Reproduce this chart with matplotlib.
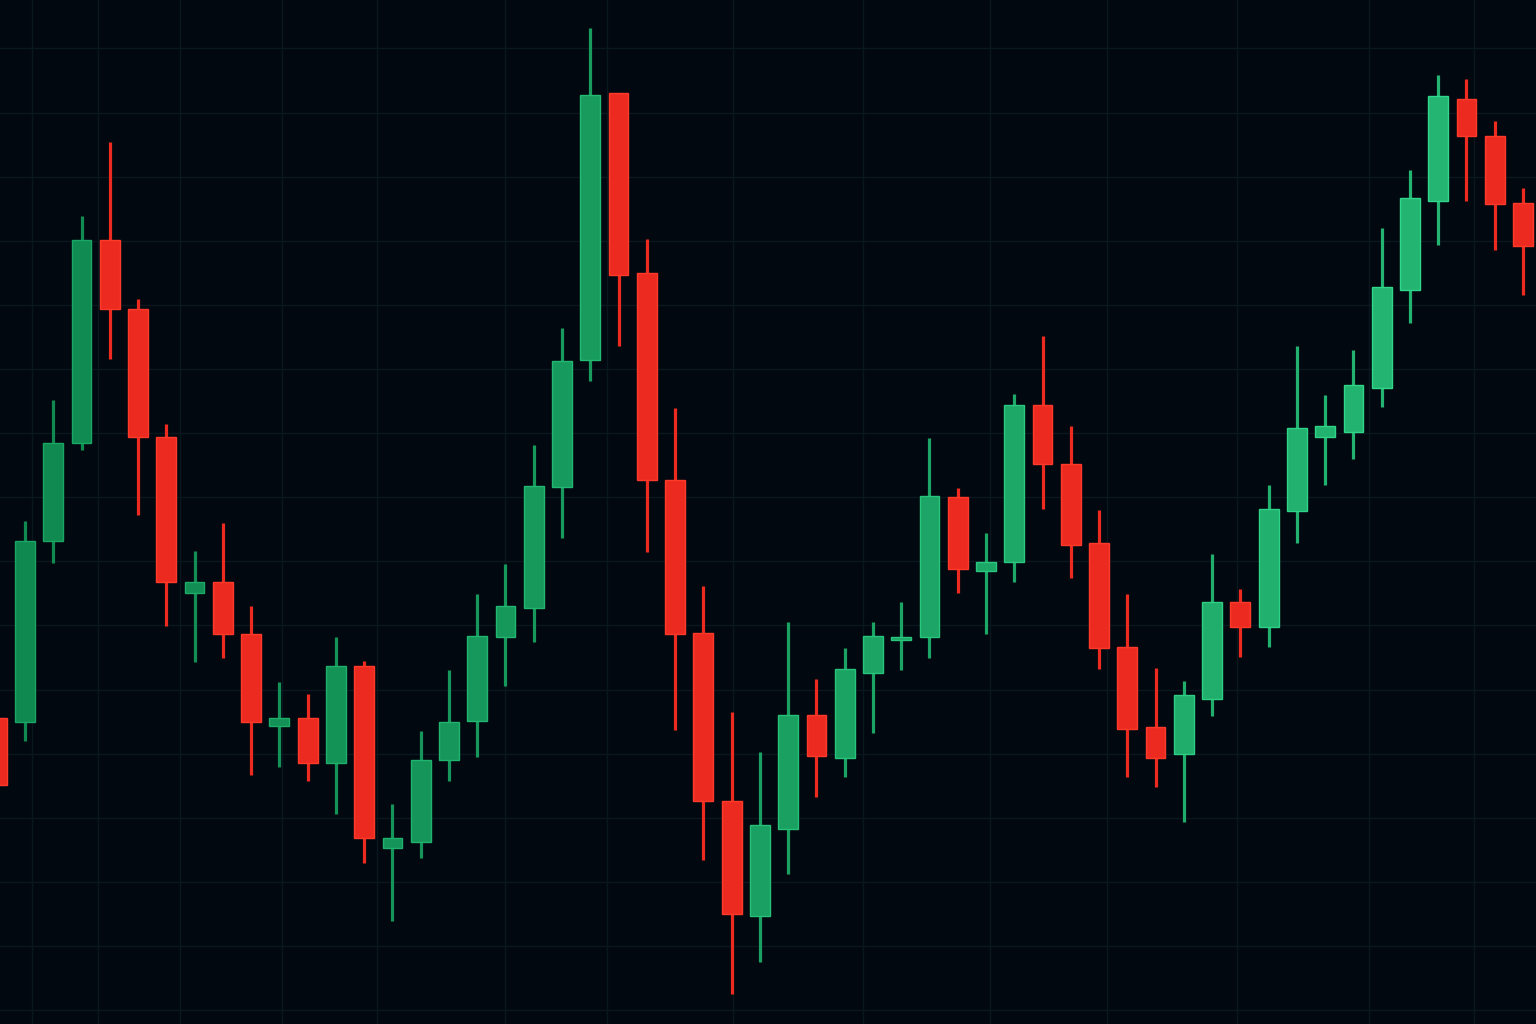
import matplotlib
matplotlib.use("Agg")
import matplotlib.pyplot as plt
from matplotlib.patches import Rectangle
import numpy as np

# ---- data (OHLC per session) ----
opens  = [30.6, 30.2, 48.3, 58.1, 78.4, 71.5, 58.7, 43.1, 44.2, 39.0,
          29.8, 30.6, 26.1, 35.8, 17.6, 18.2, 26.4, 30.3, 38.7, 41.6,
          53.7, 66.4, 93.1, 75.1, 54.4, 39.1, 22.3, 10.8, 19.5, 30.9,
          26.6, 35.1, 38.4, 38.7, 52.7, 45.3, 46.2, 61.9, 56.0, 48.1,
          37.7, 29.7, 27.0, 32.5, 42.2, 39.7, 51.3, 58.7, 59.2, 63.6,
          73.4, 82.3, 92.5, 88.8, 82.1]
highs  = [31.4, 50.3, 62.4, 80.8, 88.2, 72.5, 60.0, 47.3, 50.1, 41.8,
          34.2, 33.0, 38.7, 36.3, 22.0, 29.3, 35.4, 43.0, 46.0, 57.9,
          69.6, 99.6, 93.1, 78.5, 61.6, 43.8, 31.2, 27.2, 40.2, 34.5,
          37.6, 40.2, 42.2, 58.6, 53.6, 49.1, 63.0, 68.8, 59.8, 51.4,
          43.0, 35.6, 34.3, 47.0, 43.5, 53.9, 67.8, 62.9, 67.4, 79.6,
          85.4, 94.9, 94.5, 90.3, 83.6]
lows   = [23.0, 28.3, 46.1, 57.4, 66.5, 50.9, 39.8, 36.2, 36.6, 24.9,
          25.7, 24.3, 21.0, 16.1, 10.3, 16.6, 24.3, 26.7, 33.8, 38.2,
          48.6, 64.3, 67.8, 47.2, 29.4, 16.4, 3.0, 6.2, 15.0, 22.7,
          24.7, 29.1, 35.4, 36.6, 43.1, 39.0, 44.2, 51.5, 44.6, 35.5,
          24.7, 23.7, 20.2, 30.8, 36.7, 37.7, 48.1, 53.9, 56.5, 61.7,
          70.1, 77.9, 82.3, 77.4, 72.9]
closes = [23.9, 48.3, 58.1, 78.4, 71.5, 58.7, 44.2, 44.2, 39.0, 30.2,
          30.6, 26.1, 35.8, 18.6, 18.6, 26.4, 30.2, 38.8, 41.8, 53.8,
          66.3, 92.9, 74.9, 54.4, 39.0, 22.3, 11.0, 19.9, 30.9, 26.8,
          35.5, 38.8, 38.7, 52.8, 45.5, 46.2, 61.9, 56.0, 47.9, 37.6,
          29.5, 26.6, 32.9, 42.2, 39.7, 51.5, 59.6, 59.8, 63.9, 73.7,
          82.6, 92.8, 88.8, 82.0, 77.8]

# ---- style ----
BG = "#02080f"
GRID = "#09171f"
UP_LEFT = np.array([0x0f, 0x88, 0x4f]) / 255
UP_RIGHT = np.array([0x25, 0xb8, 0x74]) / 255
DOWN = "#ec2a1f"
DOWN_EDGE = "#ff3a2a"
BODY_W = 0.70

n = len(opens)
x = np.arange(n)

fig = plt.figure(figsize=(15.36, 10.24), dpi=100, facecolor=BG)
ax = fig.add_axes([0, 0, 1, 1])
ax.set_facecolor(BG)

for i in range(n):
    o, h, l, c = opens[i], highs[i], lows[i], closes[i]
    up = c >= o
    if up:
        t = i / (n - 1)
        col = tuple(UP_LEFT * (1 - t) + UP_RIGHT * t)
        edge = tuple(np.minimum(np.array(col) * 1.15 + 0.03, 1))
    else:
        col = DOWN
        edge = DOWN_EDGE
    ax.vlines(x[i], l, h, color=col, linewidth=2.3, zorder=2)
    bottom = min(o, c)
    height = max(abs(c - o), 0.35)
    ax.add_patch(Rectangle((x[i] - BODY_W / 2, bottom), BODY_W, height,
                           facecolor=col, edgecolor=edge, linewidth=1.0, zorder=3))

ax.set_xlim(0.115, 54.46)
ax.set_ylim(0, 102.4)

# faint grid
ygrid = np.arange(1.4, 102.4, 6.41)
xgrid = [1.25, 3.58, 6.49, 10.09, 13.46, 17.99, 21.60, 26.05, 30.65,
         35.15, 39.29, 43.89, 48.56, 52.27]
for yv in ygrid:
    ax.axhline(yv, color=GRID, linewidth=1.0, zorder=0)
for xv in xgrid:
    ax.axvline(xv, color=GRID, linewidth=1.0, zorder=0)

ax.set_xticks([])
ax.set_yticks([])
for s in ax.spines.values():
    s.set_visible(False)

fig.savefig("out.png", dpi=100, facecolor=BG)
